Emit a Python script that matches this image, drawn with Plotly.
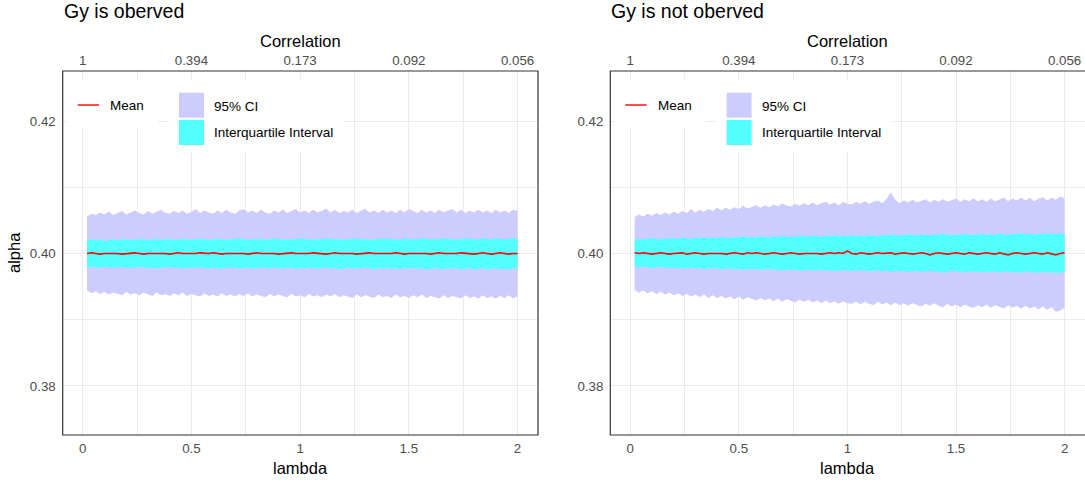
import plotly.graph_objects as go

# ---- data -----------------------------------------------------------------
lam = [0.02, 0.04, 0.06, 0.08, 0.10, 0.12, 0.14, 0.16, 0.18, 0.20,
       0.22, 0.24, 0.26, 0.28, 0.30, 0.32, 0.34, 0.36, 0.38, 0.40,
       0.42, 0.44, 0.46, 0.48, 0.50, 0.52, 0.54, 0.56, 0.58, 0.60,
       0.62, 0.64, 0.66, 0.68, 0.70, 0.72, 0.74, 0.76, 0.78, 0.80,
       0.82, 0.84, 0.86, 0.88, 0.90, 0.92, 0.94, 0.96, 0.98, 1.00,
       1.02, 1.04, 1.06, 1.08, 1.10, 1.12, 1.14, 1.16, 1.18, 1.20,
       1.22, 1.24, 1.26, 1.28, 1.30, 1.32, 1.34, 1.36, 1.38, 1.40,
       1.42, 1.44, 1.46, 1.48, 1.50, 1.52, 1.54, 1.56, 1.58, 1.60,
       1.62, 1.64, 1.66, 1.68, 1.70, 1.72, 1.74, 1.76, 1.78, 1.80,
       1.82, 1.84, 1.86, 1.88, 1.90, 1.92, 1.94, 1.96, 1.98, 2.00]

# Gy observed
obs_hi95 = [0.4056, 0.4060, 0.4058, 0.4062, 0.4059, 0.4063, 0.4058, 0.4061, 0.4064, 0.4059,
            0.4062, 0.4065, 0.4061, 0.4059, 0.4064, 0.4060, 0.4063, 0.4066, 0.4061, 0.4060,
            0.4064, 0.4061, 0.4065, 0.4060, 0.4063, 0.4067, 0.4061, 0.4065, 0.4062, 0.4060,
            0.4065, 0.4061, 0.4066, 0.4062, 0.4060, 0.4065, 0.4067, 0.4062, 0.4065, 0.4061,
            0.4066, 0.4062, 0.4060, 0.4065, 0.4062, 0.4066, 0.4061, 0.4064, 0.4067, 0.4062,
            0.4065, 0.4061, 0.4066, 0.4062, 0.4064, 0.4068, 0.4062, 0.4066, 0.4061, 0.4064,
            0.4062, 0.4066, 0.4061, 0.4065, 0.4067, 0.4062, 0.4065, 0.4061, 0.4066, 0.4062,
            0.4065, 0.4061, 0.4066, 0.4062, 0.4067, 0.4064, 0.4061, 0.4066, 0.4062, 0.4065,
            0.4061, 0.4066, 0.4062, 0.4065, 0.4067, 0.4062, 0.4066, 0.4061, 0.4065, 0.4062,
            0.4066, 0.4062, 0.4065, 0.4061, 0.4066, 0.4062, 0.4065, 0.4061, 0.4066, 0.4064]
obs_lo95 = [0.3944, 0.3940, 0.3943, 0.3939, 0.3942, 0.3938, 0.3941, 0.3939, 0.3937, 0.3942,
            0.3938, 0.3940, 0.3937, 0.3941, 0.3938, 0.3936, 0.3941, 0.3937, 0.3939, 0.3936,
            0.3940, 0.3937, 0.3941, 0.3936, 0.3939, 0.3937, 0.3935, 0.3940, 0.3936, 0.3938,
            0.3935, 0.3940, 0.3936, 0.3938, 0.3935, 0.3939, 0.3936, 0.3940, 0.3935, 0.3938,
            0.3936, 0.3934, 0.3939, 0.3935, 0.3938, 0.3936, 0.3934, 0.3939, 0.3935, 0.3937,
            0.3934, 0.3939, 0.3935, 0.3937, 0.3934, 0.3938, 0.3935, 0.3939, 0.3934, 0.3937,
            0.3935, 0.3933, 0.3938, 0.3934, 0.3937, 0.3935, 0.3933, 0.3938, 0.3934, 0.3936,
            0.3933, 0.3938, 0.3934, 0.3936, 0.3933, 0.3937, 0.3934, 0.3938, 0.3933, 0.3936,
            0.3934, 0.3932, 0.3937, 0.3933, 0.3936, 0.3934, 0.3932, 0.3937, 0.3933, 0.3935,
            0.3932, 0.3937, 0.3933, 0.3935, 0.3932, 0.3936, 0.3933, 0.3937, 0.3932, 0.3935]
obs_q3 = [0.4020, 0.4021, 0.4020, 0.4021, 0.4019, 0.4020, 0.4021, 0.4020, 0.4022, 0.4020,
          0.4021, 0.4020, 0.4022, 0.4021, 0.4020, 0.4021, 0.4022, 0.4020, 0.4021, 0.4022,
          0.4020, 0.4021, 0.4022, 0.4021, 0.4020, 0.4022, 0.4021, 0.4022, 0.4020, 0.4021,
          0.4022, 0.4021, 0.4020, 0.4022, 0.4021, 0.4023, 0.4021, 0.4020, 0.4022, 0.4021,
          0.4022, 0.4020, 0.4021, 0.4023, 0.4021, 0.4022, 0.4020, 0.4022, 0.4021, 0.4023,
          0.4021, 0.4022, 0.4020, 0.4022, 0.4021, 0.4023, 0.4022, 0.4021, 0.4022, 0.4020,
          0.4022, 0.4021, 0.4023, 0.4021, 0.4022, 0.4020, 0.4022, 0.4021, 0.4023, 0.4022,
          0.4021, 0.4022, 0.4020, 0.4023, 0.4021, 0.4022, 0.4021, 0.4023, 0.4022, 0.4021,
          0.4022, 0.4021, 0.4023, 0.4021, 0.4022, 0.4020, 0.4022, 0.4023, 0.4021, 0.4022,
          0.4021, 0.4023, 0.4022, 0.4021, 0.4023, 0.4022, 0.4021, 0.4022, 0.4023, 0.4022]
obs_q1 = [0.3979, 0.3980, 0.3979, 0.3978, 0.3980, 0.3979, 0.3978, 0.3979, 0.3980, 0.3978,
          0.3979, 0.3978, 0.3980, 0.3979, 0.3978, 0.3979, 0.3977, 0.3979, 0.3978, 0.3980,
          0.3978, 0.3979, 0.3977, 0.3978, 0.3979, 0.3978, 0.3980, 0.3978, 0.3977, 0.3979,
          0.3978, 0.3977, 0.3979, 0.3978, 0.3979, 0.3977, 0.3978, 0.3979, 0.3977, 0.3978,
          0.3979, 0.3978, 0.3977, 0.3979, 0.3978, 0.3977, 0.3978, 0.3979, 0.3977, 0.3978,
          0.3977, 0.3979, 0.3978, 0.3977, 0.3978, 0.3979, 0.3977, 0.3978, 0.3976, 0.3978,
          0.3979, 0.3977, 0.3978, 0.3977, 0.3979, 0.3978, 0.3976, 0.3978, 0.3977, 0.3978,
          0.3977, 0.3978, 0.3976, 0.3978, 0.3977, 0.3979, 0.3977, 0.3978, 0.3976, 0.3977,
          0.3978, 0.3977, 0.3976, 0.3978, 0.3977, 0.3978, 0.3976, 0.3977, 0.3978, 0.3976,
          0.3977, 0.3978, 0.3976, 0.3977, 0.3978, 0.3976, 0.3977, 0.3976, 0.3978, 0.3977]
obs_mean = [0.4000, 0.4001, 0.4000, 0.3999, 0.4000, 0.4000, 0.4001, 0.4000, 0.3999, 0.4000,
            0.4000, 0.4001, 0.4000, 0.3999, 0.4000, 0.4000, 0.4001, 0.4000, 0.4000, 0.3999,
            0.4000, 0.4001, 0.4000, 0.4000, 0.3999, 0.4000, 0.4001, 0.4000, 0.4000, 0.4001,
            0.4000, 0.3999, 0.4000, 0.4000, 0.4001, 0.4000, 0.4000, 0.3999, 0.4000, 0.4001,
            0.4000, 0.4000, 0.4001, 0.4000, 0.3999, 0.4000, 0.4000, 0.4001, 0.4000, 0.4000,
            0.3999, 0.4000, 0.4001, 0.4000, 0.4000, 0.3999, 0.4000, 0.4001, 0.4000, 0.4000,
            0.4001, 0.4000, 0.3999, 0.4000, 0.4000, 0.4001, 0.4000, 0.4000, 0.3999, 0.4000,
            0.4000, 0.4001, 0.4000, 0.3999, 0.4000, 0.4000, 0.4001, 0.4000, 0.4000, 0.3999,
            0.4000, 0.4001, 0.4000, 0.4000, 0.3999, 0.4000, 0.4001, 0.4000, 0.4000, 0.3999,
            0.4000, 0.4001, 0.4000, 0.3999, 0.4000, 0.4001, 0.4000, 0.3999, 0.4000, 0.4000]

# Gy not observed
nob_hi95 = [0.4055, 0.4059, 0.4056, 0.4060, 0.4057, 0.4061, 0.4058, 0.4062, 0.4059, 0.4063,
            0.4060, 0.4064, 0.4061, 0.4067, 0.4062, 0.4066, 0.4063, 0.4067, 0.4064, 0.4069,
            0.4065, 0.4069, 0.4066, 0.4070, 0.4067, 0.4072, 0.4068, 0.4071, 0.4073, 0.4069,
            0.4073, 0.4070, 0.4074, 0.4071, 0.4076, 0.4072, 0.4071, 0.4075, 0.4072, 0.4076,
            0.4073, 0.4077, 0.4073, 0.4076, 0.4078, 0.4074, 0.4077, 0.4073, 0.4078, 0.4075,
            0.4074, 0.4078, 0.4075, 0.4079, 0.4075, 0.4078, 0.4080, 0.4076, 0.4082, 0.4093,
            0.4081, 0.4076, 0.4080, 0.4077, 0.4081, 0.4077, 0.4080, 0.4082, 0.4077, 0.4081,
            0.4078, 0.4082, 0.4078, 0.4081, 0.4083, 0.4078, 0.4082, 0.4079, 0.4083, 0.4079,
            0.4082, 0.4078, 0.4083, 0.4079, 0.4082, 0.4084, 0.4079, 0.4083, 0.4080, 0.4084,
            0.4080, 0.4084, 0.4079, 0.4083, 0.4085, 0.4080, 0.4084, 0.4081, 0.4086, 0.4083]
nob_lo95 = [0.3945, 0.3941, 0.3944, 0.3940, 0.3943, 0.3939, 0.3942, 0.3938, 0.3941, 0.3937,
            0.3940, 0.3936, 0.3939, 0.3935, 0.3938, 0.3934, 0.3938, 0.3933, 0.3937, 0.3933,
            0.3936, 0.3932, 0.3935, 0.3931, 0.3935, 0.3930, 0.3934, 0.3931, 0.3929, 0.3933,
            0.3929, 0.3932, 0.3928, 0.3932, 0.3927, 0.3931, 0.3928, 0.3926, 0.3930, 0.3927,
            0.3930, 0.3926, 0.3929, 0.3925, 0.3929, 0.3925, 0.3928, 0.3924, 0.3928, 0.3925,
            0.3924, 0.3928, 0.3923, 0.3927, 0.3924, 0.3922, 0.3927, 0.3923, 0.3926, 0.3922,
            0.3926, 0.3922, 0.3925, 0.3921, 0.3925, 0.3922, 0.3920, 0.3924, 0.3921, 0.3925,
            0.3921, 0.3919, 0.3924, 0.3920, 0.3923, 0.3919, 0.3923, 0.3920, 0.3918, 0.3922,
            0.3919, 0.3923, 0.3918, 0.3922, 0.3919, 0.3917, 0.3922, 0.3918, 0.3921, 0.3917,
            0.3921, 0.3917, 0.3920, 0.3916, 0.3920, 0.3915, 0.3919, 0.3912, 0.3914, 0.3918]
nob_q3 = [0.4021, 0.4022, 0.4021, 0.4022, 0.4023, 0.4022, 0.4021, 0.4023, 0.4022, 0.4023,
          0.4022, 0.4024, 0.4023, 0.4022, 0.4024, 0.4023, 0.4025, 0.4023, 0.4024, 0.4023,
          0.4025, 0.4024, 0.4023, 0.4025, 0.4024, 0.4026, 0.4024, 0.4025, 0.4024, 0.4026,
          0.4025, 0.4024, 0.4026, 0.4025, 0.4027, 0.4025, 0.4026, 0.4025, 0.4027, 0.4026,
          0.4025, 0.4027, 0.4026, 0.4025, 0.4027, 0.4026, 0.4028, 0.4026, 0.4027, 0.4026,
          0.4028, 0.4026, 0.4027, 0.4026, 0.4028, 0.4027, 0.4026, 0.4028, 0.4027, 0.4029,
          0.4027, 0.4028, 0.4027, 0.4029, 0.4028, 0.4027, 0.4029, 0.4028, 0.4027, 0.4029,
          0.4028, 0.4030, 0.4028, 0.4027, 0.4029, 0.4028, 0.4030, 0.4028, 0.4029, 0.4028,
          0.4030, 0.4028, 0.4029, 0.4028, 0.4030, 0.4029, 0.4028, 0.4030, 0.4029, 0.4031,
          0.4029, 0.4030, 0.4028, 0.4030, 0.4029, 0.4031, 0.4029, 0.4030, 0.4029, 0.4031]
nob_q1 = [0.3980, 0.3979, 0.3980, 0.3979, 0.3978, 0.3979, 0.3980, 0.3978, 0.3979, 0.3978,
          0.3979, 0.3977, 0.3978, 0.3979, 0.3977, 0.3978, 0.3976, 0.3978, 0.3977, 0.3978,
          0.3976, 0.3977, 0.3978, 0.3976, 0.3977, 0.3975, 0.3977, 0.3976, 0.3977, 0.3975,
          0.3976, 0.3977, 0.3975, 0.3976, 0.3974, 0.3976, 0.3975, 0.3976, 0.3974, 0.3975,
          0.3976, 0.3974, 0.3975, 0.3976, 0.3974, 0.3975, 0.3973, 0.3975, 0.3974, 0.3975,
          0.3973, 0.3975, 0.3974, 0.3975, 0.3973, 0.3974, 0.3975, 0.3973, 0.3974, 0.3972,
          0.3974, 0.3973, 0.3974, 0.3972, 0.3973, 0.3974, 0.3972, 0.3973, 0.3974, 0.3972,
          0.3973, 0.3971, 0.3973, 0.3974, 0.3972, 0.3973, 0.3971, 0.3973, 0.3972, 0.3973,
          0.3971, 0.3973, 0.3972, 0.3973, 0.3971, 0.3972, 0.3973, 0.3971, 0.3972, 0.3971,
          0.3973, 0.3971, 0.3972, 0.3970, 0.3972, 0.3971, 0.3972, 0.3970, 0.3971, 0.3972]
nob_mean = [0.4001, 0.4000, 0.4001, 0.4000, 0.3999, 0.4000, 0.4001, 0.4000, 0.3999, 0.4000,
            0.4000, 0.4001, 0.3999, 0.4000, 0.4001, 0.4000, 0.3999, 0.4000, 0.4000, 0.4001,
            0.4000, 0.3999, 0.4000, 0.4001, 0.4000, 0.3999, 0.4001, 0.4000, 0.4001, 0.4000,
            0.3999, 0.4000, 0.4001, 0.4000, 0.3999, 0.4000, 0.4001, 0.4000, 0.3999, 0.4000,
            0.4000, 0.4001, 0.4000, 0.3999, 0.4000, 0.4001, 0.4000, 0.4001, 0.4000, 0.4004,
            0.4000, 0.3999, 0.4001, 0.4000, 0.3999, 0.4000, 0.4001, 0.4000, 0.4000, 0.4001,
            0.3999, 0.4000, 0.4001, 0.4000, 0.3999, 0.4000, 0.4001, 0.4000, 0.3998, 0.4000,
            0.4001, 0.4000, 0.3999, 0.4000, 0.4001, 0.4000, 0.3999, 0.4001, 0.4000, 0.3999,
            0.4000, 0.4001, 0.4000, 0.3999, 0.4001, 0.4000, 0.3998, 0.4000, 0.4001, 0.4000,
            0.3999, 0.4000, 0.4001, 0.4000, 0.3999, 0.4001, 0.4000, 0.3998, 0.4000, 0.4001]

lam_ticks = [0, 0.5, 1, 1.5, 2]
lam_labels = ["0", "0.5", "1", "1.5", "2"]
corr_labels = ["1", "0.394", "0.173", "0.092", "0.056"]
alpha_ticks = [0.38, 0.40, 0.42]
alpha_labels = ["0.38", "0.40", "0.42"]
panel_titles = ["Gy is oberved", "Gy is not oberved"]

# ---- style ----------------------------------------------------------------
W, H = 1085, 480
FONT = "Liberation Sans, Arial, Helvetica, sans-serif"
CI_COL = "rgb(204,204,255)"
IQR_COL = "rgb(84,255,255)"
MEAN_COL = "rgb(255,0,0)"
GRID = "rgb(235,235,235)"
TICK_COL = "rgb(77,77,77)"
BORDER = "rgb(51,51,51)"


def px(x):
    return x / W


def py(y):
    return 1 - y / H


X_RANGE = [-0.092, 2.094]
Y_RANGE = [0.3726, 0.42755]
Y_DOM = [py(435), py(71)]
PANEL_LEFT = [62.7, 610.3]
X_DOMS = [[px(62.7), px(538)], [px(610.3), 1.0]]

fig = go.Figure()

series = [(obs_lo95, obs_hi95, obs_q1, obs_q3, obs_mean),
          (nob_lo95, nob_hi95, nob_q1, nob_q3, nob_mean)]

for i, (lo95, hi95, q1, q3, mean) in enumerate(series):
    xa = "x" if i == 0 else "x2"
    ya = "y" if i == 0 else "y2"
    common = dict(x=lam, xaxis=xa, yaxis=ya, mode="lines", showlegend=False,
                  hoverinfo="skip")
    fig.add_trace(go.Scatter(y=lo95, line=dict(width=0, color=CI_COL), **common))
    fig.add_trace(go.Scatter(y=hi95, line=dict(width=0, color=CI_COL),
                             fill="tonexty", fillcolor=CI_COL, **common))
    fig.add_trace(go.Scatter(y=q1, line=dict(width=0, color=IQR_COL), **common))
    fig.add_trace(go.Scatter(y=q3, line=dict(width=0, color=IQR_COL),
                             fill="tonexty", fillcolor=IQR_COL, **common))
    fig.add_trace(go.Scatter(y=mean, line=dict(width=1.6, color=MEAN_COL), **common))
    # anchor for the secondary (correlation) axis on top
    fig.add_trace(go.Scatter(x=[lam[0]], y=[mean[0]], xaxis="x3" if i == 0 else "x4",
                             yaxis=ya, mode="markers", marker=dict(opacity=0),
                             showlegend=False, hoverinfo="skip"))

tick_font = dict(family=FONT, size=13.3, color=TICK_COL)


def bottom_axis(dom, anchor):
    return dict(domain=dom, anchor=anchor, range=X_RANGE, tickmode="array",
                tickvals=lam_ticks, ticktext=lam_labels, tickfont=tick_font,
                showgrid=True, gridcolor=GRID, gridwidth=1.1, zeroline=False,
                showline=False, ticks="", ticklabelstandoff=4,
                minor=dict(tickvals=[0.25, 0.75, 1.25, 1.75], showgrid=True,
                           gridcolor=GRID, gridwidth=0.55))


def top_axis(over, anchor):
    return dict(overlaying=over, anchor=anchor, side="top", range=X_RANGE,
                tickmode="array", tickvals=lam_ticks, ticktext=corr_labels,
                tickfont=tick_font, showgrid=False, zeroline=False,
                showline=False, ticks="", ticklabelstandoff=2)


def y_axis(anchor, show_labels):
    return dict(domain=Y_DOM, anchor=anchor, range=Y_RANGE, tickmode="array",
                tickvals=alpha_ticks, ticktext=alpha_labels, tickfont=tick_font,
                showgrid=True, gridcolor=GRID, gridwidth=1.1, zeroline=False,
                showline=False, ticks="", showticklabels=show_labels,
                ticklabelstandoff=6,
                minor=dict(tickvals=[0.39, 0.41], showgrid=True,
                           gridcolor=GRID, gridwidth=0.55))


shapes = []
annotations = []

for i, left in enumerate(PANEL_LEFT):
    xd = "x domain" if i == 0 else "x2 domain"
    yd = "y domain" if i == 0 else "y2 domain"
    # panel border
    if i == 0:
        shapes.append(dict(type="rect", xref=xd, yref=yd, x0=0, x1=1, y0=0, y1=1,
                           line=dict(color=BORDER, width=1.2), layer="above"))
    else:
        shapes.append(dict(type="path", xref="paper", yref="paper",
                           path=f"M 1.002,{Y_DOM[1]} L {px(left)},{Y_DOM[1]} "
                                f"L {px(left)},{Y_DOM[0]} L 1.002,{Y_DOM[0]}",
                           line=dict(color=BORDER, width=1.2), layer="above"))
    dx = left - PANEL_LEFT[0]
    # legend backgrounds
    shapes.append(dict(type="rect", xref="paper", yref="paper",
                       x0=px(67 + dx), x1=px(158 + dx), y0=py(128), y1=py(79),
                       fillcolor="white", line=dict(width=0), layer="above"))
    shapes.append(dict(type="rect", xref="paper", yref="paper",
                       x0=px(169 + dx), x1=px(345 + dx), y0=py(152), y1=py(79),
                       fillcolor="white", line=dict(width=0), layer="above"))
    # legend keys
    shapes.append(dict(type="line", xref="paper", yref="paper",
                       x0=px(77.7 + dx), x1=px(99 + dx), y0=py(105), y1=py(105),
                       line=dict(color=MEAN_COL, width=1.4), layer="above"))
    shapes.append(dict(type="rect", xref="paper", yref="paper",
                       x0=px(179 + dx), x1=px(204 + dx), y0=py(117.7), y1=py(92.7),
                       fillcolor=CI_COL, line=dict(width=0), layer="above"))
    shapes.append(dict(type="rect", xref="paper", yref="paper",
                       x0=px(179 + dx), x1=px(204 + dx), y0=py(145), y1=py(120),
                       fillcolor=IQR_COL, line=dict(width=0), layer="above"))
    leg_font = dict(family=FONT, size=13.5, color="black")
    for txt, x0, y0 in [("Mean", 108, 105.5), ("95% CI", 212, 106),
                        ("Interquartile Interval", 212, 132)]:
        annotations.append(dict(text=txt, xref="paper", yref="paper",
                                x=px(x0 + dx), y=py(y0), xanchor="left",
                                yanchor="middle", showarrow=False, font=leg_font))
    # titles
    annotations.append(dict(text=panel_titles[i], xref="paper", yref="paper",
                            x=px(left - 1), y=py(11), xanchor="left", yanchor="middle",
                            showarrow=False,
                            font=dict(family=FONT, size=19.5, color="black")))
    centre = left + 20 + 217.5
    annotations.append(dict(text="Correlation", xref="paper", yref="paper",
                            x=px(centre), y=py(41), xanchor="center",
                            yanchor="middle", showarrow=False,
                            font=dict(family=FONT, size=16.5, color="black")))
    annotations.append(dict(text="lambda", xref="paper", yref="paper",
                            x=px(centre), y=py(468), xanchor="center",
                            yanchor="middle", showarrow=False,
                            font=dict(family=FONT, size=16.5, color="black")))

annotations.append(dict(text="alpha", xref="paper", yref="paper", x=px(14),
                        y=py(253), xanchor="center", yanchor="middle",
                        textangle=-90, showarrow=False,
                        font=dict(family=FONT, size=16.5, color="black")))

fig.update_layout(
    width=W, height=H,
    margin=dict(l=0, r=0, t=0, b=0),
    paper_bgcolor="white", plot_bgcolor="white",
    font=dict(family=FONT),
    showlegend=False,
    xaxis=bottom_axis(X_DOMS[0], "y"),
    xaxis2=bottom_axis(X_DOMS[1], "y2"),
    xaxis3=top_axis("x", "y"),
    xaxis4=top_axis("x2", "y2"),
    yaxis=y_axis("x", True),
    yaxis2=y_axis("x2", True),
    shapes=shapes,
    annotations=annotations,
)

fig.write_html("out.html")
